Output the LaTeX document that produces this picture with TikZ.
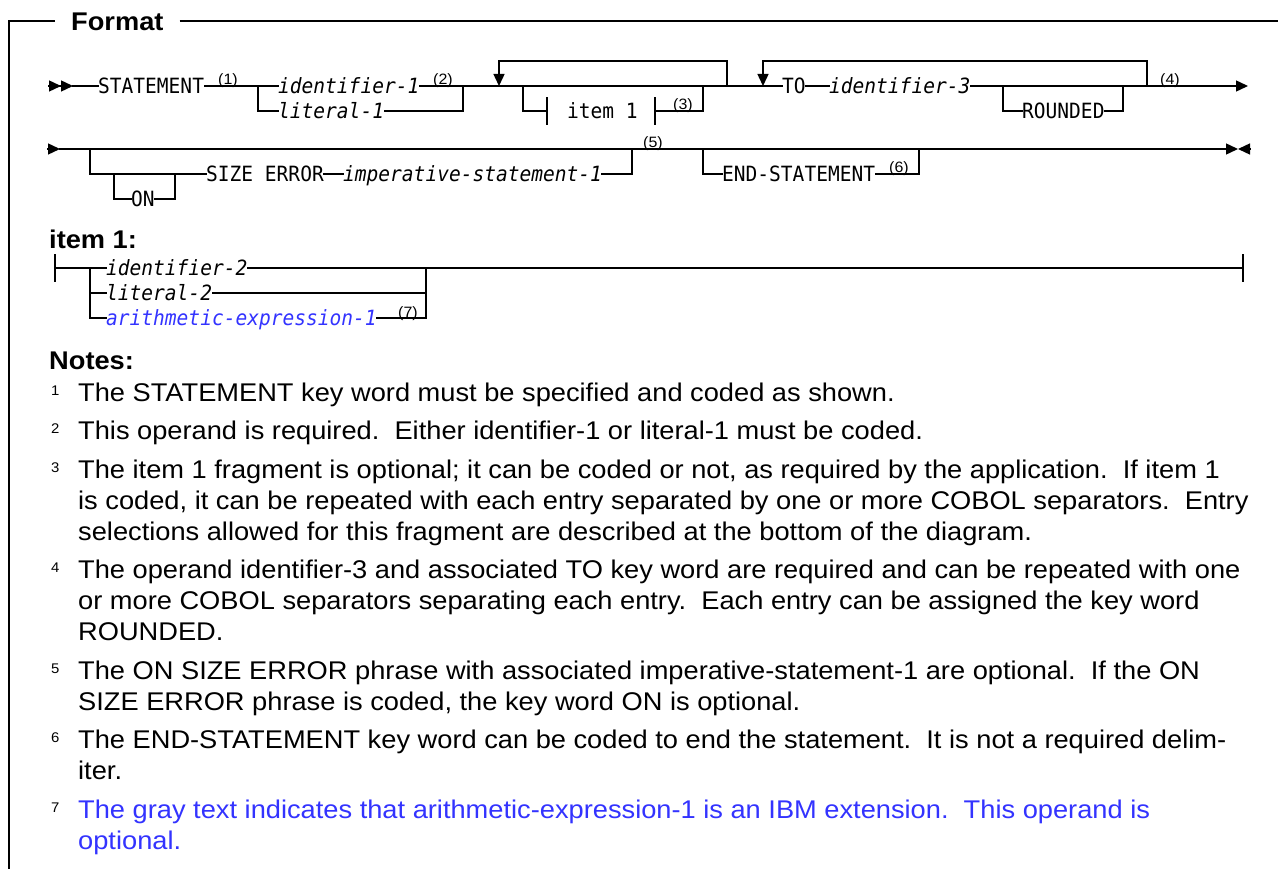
\documentclass[tikz,border=0pt]{standalone}
\usepackage{fontspec}
\setmainfont{Liberation Sans}
\newfontfamily\railfont{DejaVu Sans Mono}[FakeStretch=0.93]
\newfontfamily\notefont{Liberation Sans}[FakeStretch=1.064]
\usetikzlibrary{calc,arrows.meta}
\definecolor{ibmblue}{RGB}{51,51,255}

\tikzset{
  rail/.style={line width=1.4pt, line cap=rect},
  frame/.style={line width=1.3pt},
  kw/.style={font=\railfont\fontsize{21}{24}\selectfont, inner sep=0pt,
             text height=15.3pt, text depth=0pt, anchor=west},
  var/.style={kw, font=\railfont\itshape\fontsize{21}{24}\selectfont},
  refno/.style={font=\notefont\fontsize{15}{16}\selectfont, inner sep=0pt, anchor=base west},
  heading/.style={font=\notefont\bfseries\fontsize{25.6}{31}\selectfont, inner sep=0pt, anchor=base west},
  note/.style={font=\notefont\frenchspacing\fontsize{25.6}{31}\selectfont, inner sep=0pt, anchor=base west},
  notenum/.style={refno, font=\notefont\fontsize{14}{16}\selectfont}
}

\begin{document}
\begin{tikzpicture}[x=1pt, y=-1pt, >={Triangle[length=12pt,width=11pt]}]
    \useasboundingbox (0,0) rectangle (1278,869);

    % frame
    \node[heading, inner xsep=16pt] (fmt) at (55,31) {Format};
    \coordinate (ftl) at (9,21);
    \coordinate (ftr) at (1278,21);
    \coordinate (fbl) at (9,869);
    \draw[frame] (fbl) -- (ftl) -- (ftl -| fmt.west);
    \draw[frame] (ftl -| fmt.east) -- (ftr);

    % first line of the statement
    \coordinate (r1in) at (49,86);
    \coordinate (r1a)  at (73,86);
    \node[kw]    (stmt) at (98,86)   {STATEMENT};
    \node[refno] (s1)   at (218,85)  {(1)};
    \coordinate (b1l)  at (258,86);
    \node[var]   (id1)  at (278,86)  {identifier-1};
    \node[refno] (s2)   at (433,85)  {(2)};
    \node[var]   (lit1) at (278,111) {literal-1};
    \coordinate (b1r)  at (463,86);
    \coordinate (l1a)  at (499,61);
    \coordinate (l1b)  at (499,86);
    \coordinate (l1c)  at (727,61);
    \coordinate (l1d)  at (727,86);
    \coordinate (i1a)  at (523,86);
    \coordinate (i1c)  at (547,111);
    \node[kw]    (frag) at (567,111) {item 1};
    \coordinate (i1d)  at (655,111);
    \node[refno] (s3)   at (673,110) {(3)};
    \coordinate (i1f)  at (703,86);
    \coordinate (l2a)  at (763,61);
    \coordinate (l2b)  at (763,86);
    \coordinate (l2c)  at (1147,61);
    \coordinate (l2d)  at (1147,86);
    \node[kw]    (to)   at (782,86)  {TO};
    \node[var]   (id3)  at (829,86)  {identifier-3};
    \coordinate (rdl)  at (1003,86);
    \node[kw]    (rnd)  at (1022,111) {ROUNDED};
    \coordinate (rdr)  at (1123,86);
    \node[refno] (s4)   at (1160,85) {(4)};
    \coordinate (r1out) at (1248,86);

    \draw[rail,-{Triangle[length=12pt,width=11pt] Triangle[length=12pt,width=11pt]}] (r1in) -- (r1a);
    \path[rail] (r1a)      edge (stmt.west)
                (stmt.east) edge (id1.west)
                (id1.east)  edge (to.west)
                (to.east)   edge (id3.west)
                (id3.east)  edge[->] (r1out);
    \draw[rail] (b1l) |- (lit1.west);
    \draw[rail] (lit1.east) -| (b1r);
    \draw[rail,->] (l1d) -- (l1c) -- (l1a) -- (l1b);
    \draw[rail] (i1a) |- (i1c);
    \draw[rail] (i1d) -| (i1f);
    \draw[rail,->] (l2d) -- (l2c) -- (l2a) -- (l2b);
    \draw[rail] (rdl) |- (rnd.west);
    \draw[rail] (rnd.east) -| (rdr);
    \foreach \b in {i1c,i1d} {\draw[rail] ($(\b)+(0,-13)$) -- ($(\b)+(0,13)$);};

    % second line of the statement
    \coordinate (r2in)  at (48,149);
    \coordinate (r2a)   at (60,149);
    \coordinate (r2out) at (1238,149);
    \coordinate (r2end) at (1250,149);
    \coordinate (oea)   at (90,149);
    \coordinate (ona)   at (114,174);
    \node[kw]    (on)    at (131,199) {ON};
    \coordinate (onb)   at (175,174);
    \node[kw]    (size)  at (206,174) {SIZE ERROR};
    \node[var]   (imp)   at (343,174) {imperative-statement-1};
    \coordinate (oeb)   at (632,149);
    \node[refno] (s5)    at (643,148) {(5)};
    \coordinate (esa)   at (703,149);
    \node[kw]    (endst) at (722,174) {END-STATEMENT};
    \node[refno] (s6)    at (889,173) {(6)};
    \coordinate (esb)   at (919,149);

    \path[rail] (r2in)  edge[->] (r2a)
                (r2a)   edge[->] (r2out)
                (r2end) edge[->] (r2out)
                (size.east) edge (imp.west);
    \draw[rail] (oea) |- (size.west);
    \draw[rail] (ona) |- (on.west);
    \draw[rail] (on.east) -| (onb);
    \draw[rail] (imp.east) -| (oeb);
    \draw[rail] (esa) |- (endst.west);
    \draw[rail] (endst.east) -| (esb);

    % item 1 fragment
    \node[heading] (itemh) at (49,249) {item 1:};
    \coordinate (fl)  at (55,268);
    \coordinate (fr)  at (1243,268);
    \coordinate (fb1) at (90,268);
    \coordinate (fb2) at (426,268);
    \node[var]   (id2)   at (106,268) {identifier-2};
    \node[var]   (lit2)  at (106,293) {literal-2};
    \node[var, text=ibmblue] (arith) at (106,318) {arithmetic-expression-1};
    \node[refno] (s7)    at (398,317) {(7)};

    \path[rail] (fl)        edge (id2.west)
                (id2.east)  edge (fr)
                (fb1 |- lit2.west) edge (lit2.west)
                (lit2.east) edge (fb2 |- lit2.east);
    \draw[rail] (fb1) |- (arith.west);
    \draw[rail] (arith.east) -| (fb2);
    \foreach \b in {fl,fr} {\draw[rail] ($(\b)+(0,-13)$) -- ($(\b)+(0,13)$);};

    % notes
    \node[heading] (noteh) at (49,369) {Notes:};
    \foreach \n/\y in {1/401,2/439.5,3/478,4/578.5,5/679,6/748.5,7/818}
      {\node[notenum] (num\n) at (51,\y-6) {\n};};
    \node[note] (n1) at (78,401) {\vtop{\hbox{The STATEMENT key word must be specified and coded as shown.}}};
    \node[note] (n2) at (78,439.5) {\vtop{\hbox{This operand is required.\ \ Either identifier-1 or literal-1 must be coded.}}};
    \node[note] (n3) at (78,478) {\vtop{%
      \hbox{The item 1 fragment is optional; it can be coded or not, as required by the application.\ \ If item 1}
      \hbox{is coded, it can be repeated with each entry separated by one or more COBOL separators.\ \ Entry}
      \hbox{selections allowed for this fragment are described at the bottom of the diagram.}}};
    \node[note] (n4) at (78,578.5) {\vtop{%
      \hbox{The operand identifier-3 and associated TO key word are required and can be repeated with one}
      \hbox{or more COBOL separators separating each entry.\ \ Each entry can be assigned the key word}
      \hbox{ROUNDED.}}};
    \node[note] (n5) at (78,679) {\vtop{%
      \hbox{The ON SIZE ERROR phrase with associated imperative-statement-1 are optional.\ \ If the ON}
      \hbox{SIZE ERROR phrase is coded, the key word ON is optional.}}};
    \node[note] (n6) at (78,748.5) {\vtop{%
      \hbox{The END-STATEMENT key word can be coded to end the statement.\ \ It is not a required delim-}
      \hbox{iter.}}};
    \node[note, text=ibmblue] (n7) at (78,818) {\vtop{%
      \hbox{The gray text indicates that arithmetic-expression-1 is an IBM extension.\ \ This operand is}
      \hbox{optional.}}};
\end{tikzpicture}
\end{document}
